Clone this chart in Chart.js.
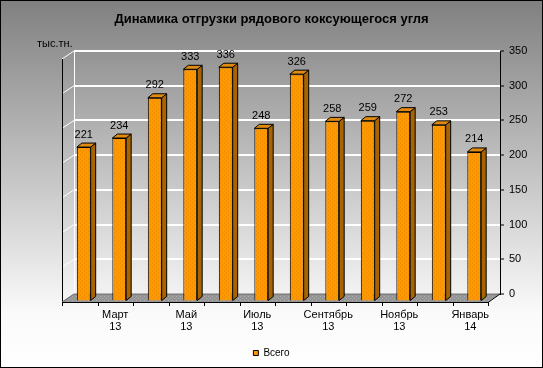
<!DOCTYPE html>
<html>
<head>
<meta charset="utf-8">
<script src="https://cdn.jsdelivr.net/npm/chart.js@4"></script>
<style>
  body { margin: 0; background: #fff; }
  canvas { display: block; }
</style>
</head>
<body>
<canvas id="chart" width="543" height="368"></canvas>
<script>
const months = ['Февраль', 'Март', 'Апрель', 'Май', 'Июнь', 'Июль', 'Август', 'Сентябрь', 'Октябрь', 'Ноябрь', 'Декабрь', 'Январь'];
const years = ['13', '13', '13', '13', '13', '13', '13', '13', '13', '13', '13', '14'];
const shipments = [221, 234, 292, 333, 336, 248, 326, 258, 259, 272, 253, 214];
const yMax = 350;
const yStep = 50;

const FONT = "'Liberation Sans', Arial, sans-serif";
// wall depth (back plane -> front plane) and bar depth
const WX = 12, WY = 8;
const BX = 5, BY = 4;
const BAR_SHIFT_X = -8, BAR_SHIFT_Y = 6.5;

function dotted(base, dot) {
  const c = document.createElement('canvas');
  c.width = 4; c.height = 4;
  const g = c.getContext('2d');
  g.fillStyle = base;
  g.fillRect(0, 0, 4, 4);
  g.fillStyle = dot;
  g.fillRect(0, 0, 1, 1);
  g.fillRect(2, 2, 1, 1);
  return g.createPattern(c, 'repeat');
}
const ctx = document.getElementById('chart').getContext('2d');
const barFill = dotted('#ff9900', '#e68400');
const floorFill = dotted('#959595', '#b0b0b0');

const scene3d = {
  id: 'scene3d',
  beforeDraw(chart) {
    const c = chart.ctx;
    const g = c.createLinearGradient(0, 0, 0, chart.height);
    g.addColorStop(0, '#808080');
    g.addColorStop(0.85, '#fafafa');
    g.addColorStop(1, '#ffffff');
    c.save();
    c.fillStyle = g;
    c.fillRect(0, 0, chart.width, chart.height);
    c.restore();
  },
  beforeDatasetsDraw(chart) {
    const c = chart.ctx;
    const a = chart.chartArea;
    const xs = chart.scales.x, ys = chart.scales.y;
    const B = ys.getPixelForValue(0), T = ys.getPixelForValue(yMax);
    const L = a.left, R = a.right;
    c.save();
    // left wall
    c.strokeStyle = '#ffffff';
    c.lineWidth = 1;
    for (let v = 0; v <= yMax; v += yStep) {
      const gy = ys.getPixelForValue(v);
      c.beginPath();
      c.moveTo(L - WX, gy + WY);
      c.lineTo(L, gy);
      c.stroke();
    }
    c.beginPath();
    c.moveTo(L + 0.5, T);
    c.lineTo(L + 0.5, B);
    c.stroke();
    c.strokeStyle = '#000';
    c.beginPath();
    c.moveTo(L - WX + 0.5, T + WY);
    c.lineTo(L - WX + 0.5, B + WY);
    c.stroke();
    // floor
    c.fillStyle = floorFill;
    c.beginPath();
    c.moveTo(L, B);
    c.lineTo(R, B);
    c.lineTo(R - WX, B + WY);
    c.lineTo(L - WX, B + WY);
    c.closePath();
    c.fill();
    c.strokeStyle = '#666';
    c.beginPath();
    c.moveTo(L - WX, B + WY);
    c.lineTo(L, B);
    c.lineTo(R, B);
    c.stroke();
    c.strokeStyle = '#000';
    c.beginPath();
    c.moveTo(L - WX, B + WY + 0.5);
    c.lineTo(R - WX, B + WY + 0.5);
    c.lineTo(R, B);
    c.stroke();
    // category ticks on the front edge
    for (let i = 0; i <= months.length; i++) {
      const tx = Math.round(xs.getPixelForValue(i - 0.5) - WX) + 0.5;
      c.beginPath();
      c.moveTo(tx, B + WY);
      c.lineTo(tx, B + WY + 4);
      c.stroke();
    }
    c.restore();
    c.save();
    c.translate(BAR_SHIFT_X, BAR_SHIFT_Y);
  },
  afterDatasetsDraw(chart) {
    const c = chart.ctx;
    const meta = chart.getDatasetMeta(0);
    c.lineWidth = 1;
    c.strokeStyle = '#000';
    meta.data.forEach((bar, i) => {
      const p = bar.getProps(['x', 'y', 'base', 'width'], true);
      const l = p.x - p.width / 2, r = p.x + p.width / 2;
      // side face
      c.fillStyle = '#a86400';
      c.beginPath();
      c.moveTo(r, p.y);
      c.lineTo(r + BX, p.y - BY);
      c.lineTo(r + BX, p.base - BY);
      c.lineTo(r, p.base);
      c.closePath();
      c.fill();
      c.stroke();
      // top face
      c.fillStyle = '#e08a10';
      c.beginPath();
      c.moveTo(l, p.y);
      c.lineTo(l + BX, p.y - BY);
      c.lineTo(r + BX, p.y - BY);
      c.lineTo(r, p.y);
      c.closePath();
      c.fill();
      c.stroke();
      // value label
      c.fillStyle = '#000';
      c.font = '11px ' + FONT;
      c.textAlign = 'center';
      c.textBaseline = 'bottom';
      c.fillText(String(shipments[i]), p.x, p.y - BY - 3);
    });
    c.restore();
  },
  afterDraw(chart) {
    const c = chart.ctx;
    c.save();
    c.fillStyle = '#000';
    c.font = '11px ' + FONT;
    c.textAlign = 'left';
    c.textBaseline = 'middle';
    c.fillText('тыс.тн.', 37, 44);
    c.strokeStyle = '#000';
    c.lineWidth = 1;
    c.strokeRect(0.5, 0.5, chart.width - 1, chart.height - 1);
    c.restore();
  }
};

new Chart(ctx, {
  type: 'bar',
  data: {
    labels: months,
    datasets: [{
      label: 'Всего',
      data: shipments,
      backgroundColor: barFill,
      borderColor: '#000',
      borderWidth: 1,
      barPercentage: 0.39,
      categoryPercentage: 1,
      clip: false
    }]
  },
  options: {
    responsive: false,
    animation: false,
    devicePixelRatio: 1,
    layout: { padding: 0 },
    plugins: {
      title: {
        display: true,
        text: 'Динамика отгрузки рядового коксующегося угля',
        color: '#000',
        font: { family: FONT, size: 13, weight: 'bold', lineHeight: 1.2 },
        padding: { top: 12, bottom: 23.4 }
      },
      legend: {
        position: 'bottom',
        labels: {
          color: '#000',
          boxWidth: 5,
          boxHeight: 5,
          padding: 8,
          font: { family: FONT, size: 10 }
        }
      },
      tooltip: { enabled: false }
    },
    scales: {
      pad: {
        type: 'linear',
        position: 'left',
        display: true,
        grid: { display: false },
        border: { display: false },
        ticks: { display: false },
        afterFit(s) { s.width = 74; }
      },
      x: {
        grid: { display: false, drawTicks: false },
        border: { display: false },
        ticks: {
          autoSkip: false,
          maxRotation: 0,
          padding: 15,
          labelOffset: -WX,
          color: '#000',
          font: { family: FONT, size: 11, lineHeight: 1.08 },
          callback(v, i) { return i % 2 === 1 ? [months[i], years[i]] : ''; }
        },
        afterFit(s) { s.height = 46; }
      },
      y: {
        position: 'right',
        min: 0,
        max: yMax,
        grid: { color: '#ffffff', lineWidth: 2, tickColor: '#000', tickWidth: 1, tickLength: 4 },
        border: { display: true, color: '#000', width: 1 },
        ticks: {
          stepSize: yStep,
          padding: 5,
          color: '#000',
          font: { family: FONT, size: 11 }
        },
        afterFit(s) { s.width = 43; }
      }
    }
  },
  plugins: [scene3d]
});
</script>
</body>
</html>
